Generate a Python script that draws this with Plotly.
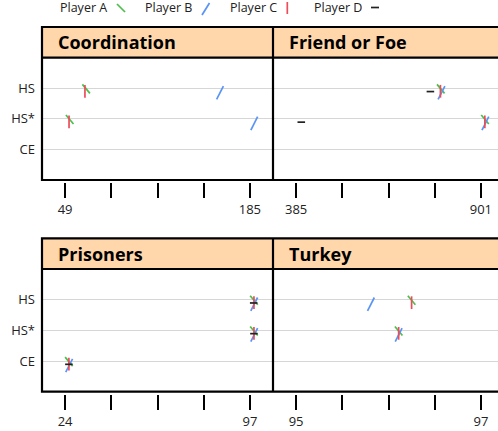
import plotly.graph_objects as go

W, H = 498, 431

# ---------------- data ----------------
categories = ["CE", "HS*", "HS"]          # bottom -> top
players = ["Player A", "Player B", "Player C", "Player D"]
panel_titles = ["Coordination", "Friend or Foe", "Prisoners", "Turkey"]

# tick endpoints (first / last labelled tick) per panel
coord_ticks = [49, 185]
fof_ticks = [385, 901]
pris_ticks = [24, 97]
turk_ticks = [95, 97]

# values in order CE, HS*, HS  (None = no value)
coord_A = [None, 52.4, 64.5]
coord_B = [None, 188.2, 163.0]
coord_C = [None, 51.9, 63.6]
coord_D = [None, None, None]

fof_A = [None, 912.5, 789.0]
fof_B = [None, 913.5, 791.0]
fof_C = [None, 912.0, 788.0]
fof_D = [None, 399.5, 760.0]

pris_A = [25.5, 98.6, 98.6]
pris_B = [25.6, 98.7, 98.7]
pris_C = [25.5, 98.6, 98.6]
pris_D = [25.5, 98.6, 98.5]

turk_A = [None, 96.11, 96.25]
turk_B = [None, 96.11, 95.81]
turk_C = [None, 96.11, 96.25]
turk_D = [None, None, None]

panel_ticks = [coord_ticks, fof_ticks, pris_ticks, turk_ticks]
panel_data = [
    [coord_A, coord_B, coord_C, coord_D],
    [fof_A, fof_B, fof_C, fof_D],
    [pris_A, pris_B, pris_C, pris_D],
    [turk_A, turk_B, turk_C, turk_D],
]

# ---------------- styling ----------------
FONT = "Open Sans"
TXT = "#222222"
STRIP = "#FFD7AB"
GRID = "#d6d6d6"
player_colors = ["#4cbf4c", "#5a94f5", "#ec4d5a", "#222222"]
player_symbols = ["line-ns", "line-ns", "line-ns", "line-ew"]
player_angles = [-40, 27, 0, 0]
player_sizes = [8.4, 10.7, 9.1, 5.4]
player_shift = [0.6, 4.5, 3.0, 3.3]   # glyph offset upward (px)


def fx(x):
    return x / W


def fy(y):
    return 1 - y / H


cols = [(42, 273, 498), (273, 504, 498)]     # left, full right, visible right
rows = [
    dict(strip_top=27, strip_bot=57.7, plot_bot=180, tick_top=182),
    dict(strip_top=238.3, strip_bot=269, plot_bot=391.7, tick_top=394),
]

fig = go.Figure()
layout = dict(
    width=W, height=H,
    margin=dict(l=0, r=0, t=0, b=0),
    paper_bgcolor="white", plot_bgcolor="rgba(0,0,0,0)",
    showlegend=False,
    font=dict(family=FONT, color=TXT, size=12),
)
shapes = []
annotations = []

yax_counter = 4
for p in range(4):
    r = rows[p // 2]
    cl, cr_full, cr_vis = cols[p % 2]
    if p % 2 == 0:
        cr_vis = cr_full
    width_full = 231
    t0, t4 = panel_ticks[p]
    span = t4 - t0
    scale = 0.8 * width_full / span
    tick_px0 = cl + 0.1 * width_full
    xmin = t0 - 0.1 * width_full / scale
    xmax = t0 + (cr_vis - tick_px0) / scale
    tickvals = [t0 + span * i / 4 for i in range(5)]
    ticktext = [str(t0), "", "", "", str(t4)]

    xn = "" if p == 0 else str(p + 1)
    ydom = [fy(r["plot_bot"]), fy(r["strip_bot"])]
    layout["xaxis" + xn] = dict(
        domain=[fx(cl), fx(cr_vis)], range=[xmin, xmax],
        anchor="free", position=fy(r["tick_top"]),
        tickmode="array", tickvals=tickvals, ticktext=ticktext,
        ticks="outside", ticklen=15, tickwidth=2.2, tickcolor="black",
        showgrid=False, zeroline=False, showline=False,
        tickfont=dict(size=13, color=TXT, family=FONT),
        fixedrange=True,
    )
    layout["yaxis" + xn] = dict(
        domain=ydom, anchor="x" + xn, type="category",
        categoryorder="array", categoryarray=categories, range=[-1, 3],
        showgrid=True, gridcolor=GRID, gridwidth=1.3,
        showticklabels=(p % 2 == 0), ticks="", ticklabelstandoff=6,
        showline=False, zeroline=False,
        tickfont=dict(size=13, color=TXT, family=FONT),
        fixedrange=True,
    )
    fig.add_trace(go.Scatter(x=[None], y=[None], xaxis="x" + xn, yaxis="y" + xn,
                             mode="markers", hoverinfo="skip"))

    for k in range(4):
        vals = panel_data[p][k]
        xs = [v for v in vals if v is not None]
        ys = [c for v, c in zip(vals, categories) if v is not None]
        if not xs:
            continue
        yax_counter += 1
        yn = str(yax_counter)
        sh = player_shift[k]
        layout["yaxis" + yn] = dict(
            domain=[fy(r["plot_bot"] + sh), fy(r["strip_bot"] + sh)],
            anchor="x" + xn, type="category",
            categoryorder="array", categoryarray=categories, range=[-1, 3],
            visible=False, fixedrange=True, showgrid=False,
        )
        fig.add_trace(go.Scatter(
            x=xs, y=ys, xaxis="x" + xn, yaxis="y" + yn,
            mode="markers", name=players[k], cliponaxis=False,
            marker=dict(symbol=player_symbols[k], angle=player_angles[k],
                        size=player_sizes[k], color=player_colors[k],
                        line=dict(color=player_colors[k], width=1.7)),
        ))

    shapes.append(dict(type="rect", xref="paper", yref="paper",
                       x0=fx(cl), x1=fx(cr_full), y0=fy(r["strip_bot"]), y1=fy(r["strip_top"]),
                       fillcolor=STRIP, line=dict(width=0), layer="below"))
    annotations.append(dict(text="<b>" + panel_titles[p] + "</b>", xref="paper", yref="paper",
                            x=fx(cl + 14), y=fy((r["strip_top"] + r["strip_bot"]) / 2),
                            xanchor="left", yanchor="middle", showarrow=False,
                            font=dict(size=18, color="black", family=FONT)))

for r in rows:
    line = dict(color="black", width=2.2)
    shapes.append(dict(type="rect", xref="paper", yref="paper",
                       x0=fx(42), x1=fx(510), y0=fy(r["plot_bot"]), y1=fy(r["strip_top"]),
                       line=line, layer="above"))
    shapes.append(dict(type="line", xref="paper", yref="paper",
                       x0=fx(42), x1=fx(510), y0=fy(r["strip_bot"]), y1=fy(r["strip_bot"]),
                       line=line, layer="above"))
    shapes.append(dict(type="line", xref="paper", yref="paper",
                       x0=fx(273), x1=fx(273), y0=fy(r["plot_bot"]), y1=fy(r["strip_top"]),
                       line=line, layer="above"))

legend_text_x = [58, 143, 228, 312]
legend_keys = [((117, 4), (125, 12)), ((202, 15), (209.5, 3)),
               ((287.3, 2), (287.3, 14)), ((371, 7.5), (379, 7.5))]
for k in range(4):
    annotations.append(dict(text=players[k], xref="paper", yref="paper",
                            x=fx(legend_text_x[k]), y=fy(7.5), xanchor="left", yanchor="middle",
                            showarrow=False, font=dict(size=12.5, color=TXT, family=FONT)))
    (a, b), (c, d) = legend_keys[k]
    shapes.append(dict(type="line", xref="paper", yref="paper",
                       x0=fx(a), y0=fy(b), x1=fx(c), y1=fy(d),
                       line=dict(color=player_colors[k], width=1.7)))

layout["shapes"] = shapes
layout["annotations"] = annotations
fig.update_layout(**layout)
fig.write_html("out.html", config={"displayModeBar": False},
               post_script="document.body.style.margin='0';document.body.style.padding='0';document.body.style.overflow='hidden';")
